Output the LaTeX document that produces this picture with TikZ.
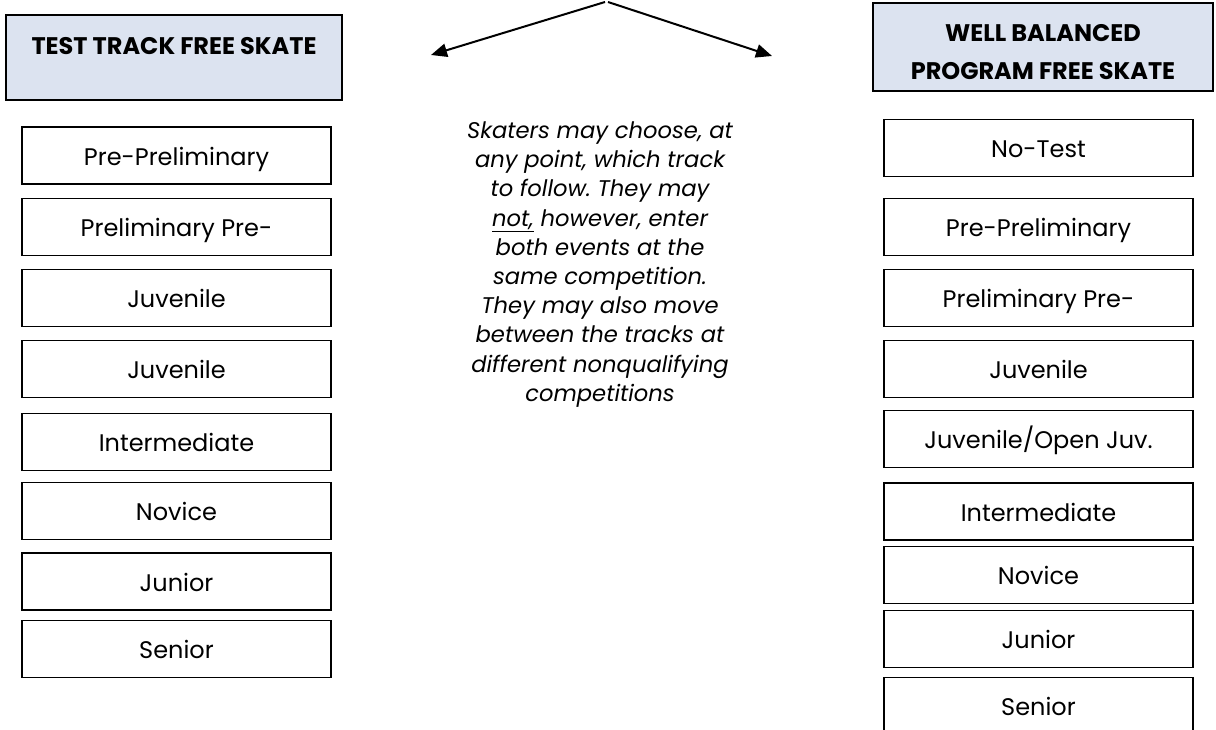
\documentclass[tikz,border=0pt]{standalone}
\usepackage{fontspec}
\setmainfont{Poppins}
\usetikzlibrary{arrows.meta}
\definecolor{hdrblue}{HTML}{DCE3F0}
\frenchspacing
\begin{document}
\begin{tikzpicture}[x=0.75pt,y=-0.75pt,
  hdrbox/.style={draw=black, line width=1.1pt, fill=hdrblue, inner sep=0pt},
  hdrtext/.style={font=\fontsize{18}{28.5}\selectfont\bfseries, align=center, inner sep=0pt},
  lvl/.style={draw=black, line width=1.1pt, minimum width=231.75pt, minimum height=43pt, inner sep=0pt, text height=14.6pt, text depth=0pt, font=\fontsize{18}{20}\selectfont},
  note/.style={font=\fontsize{17}{21.9}\selectfont\itshape, align=center, inner sep=0pt},
  arr/.style={line width=1.5pt, -{Triangle[length=12pt,width=10pt]}}
]
\useasboundingbox (0,0) rectangle (1216,730);
% left column
\node[hdrbox, minimum width=252pt, minimum height=63.75pt] (hdrL) at (174,57.5) {};
\node[hdrtext] (hdrLt) at (174,46) {TEST TRACK FREE SKATE};
\node[lvl] (l1) at (176.5,155.5) {Pre-Preliminary};
\node[lvl] (l2) at (176.5,227) {Preliminary Pre-};
\node[lvl] (l3) at (176.5,298) {Juvenile};
\node[lvl] (l4) at (176.5,369) {Juvenile};
\node[lvl] (l5) at (176.5,442) {Intermediate};
\node[lvl] (l6) at (176.5,511) {Novice};
\node[lvl] (l7) at (176.5,581.5) {Junior};
\node[lvl] (l8) at (176.5,649) {Senior};
% right column
\node[hdrbox, minimum width=255pt, minimum height=66pt] (hdrR) at (1043,47) {};
\node[hdrtext] (hdrRt) at (1043,52) {WELL BALANCED\\PROGRAM FREE SKATE};
\node[lvl] (r1) at (1038.5,148) {No-Test};
\node[lvl] (r2) at (1038.5,227) {Pre-Preliminary};
\node[lvl] (r3) at (1038.5,298) {Preliminary Pre-};
\node[lvl] (r4) at (1038.5,369) {Juvenile};
\node[lvl] (r5) at (1038.5,439) {Juvenile/Open Juv.};
\node[lvl] (r6) at (1038.5,511.5) {Intermediate};
\node[lvl] (r7) at (1038.5,575) {Novice};
\node[lvl] (r8) at (1038.5,639) {Junior};
\node[lvl] (r9) at (1038.5,706) {Senior};
% middle note and arrows
\node[note] (note) at (600,264.5) {Skaters may choose, at\\any point, which track\\to follow. They may\\\underline{not,} however, enter\\both events at the\\same competition.\\They may also move\\between the tracks at\\different nonqualifying\\competitions};
\coordinate (apexL) at (605,2);
\coordinate (apexR) at (608,2);
\coordinate (tipL) at (431,55);
\coordinate (tipR) at (772,56);
\draw[arr] (apexL) -- (tipL);
\draw[arr] (apexR) -- (tipR);
\end{tikzpicture}
\end{document}
